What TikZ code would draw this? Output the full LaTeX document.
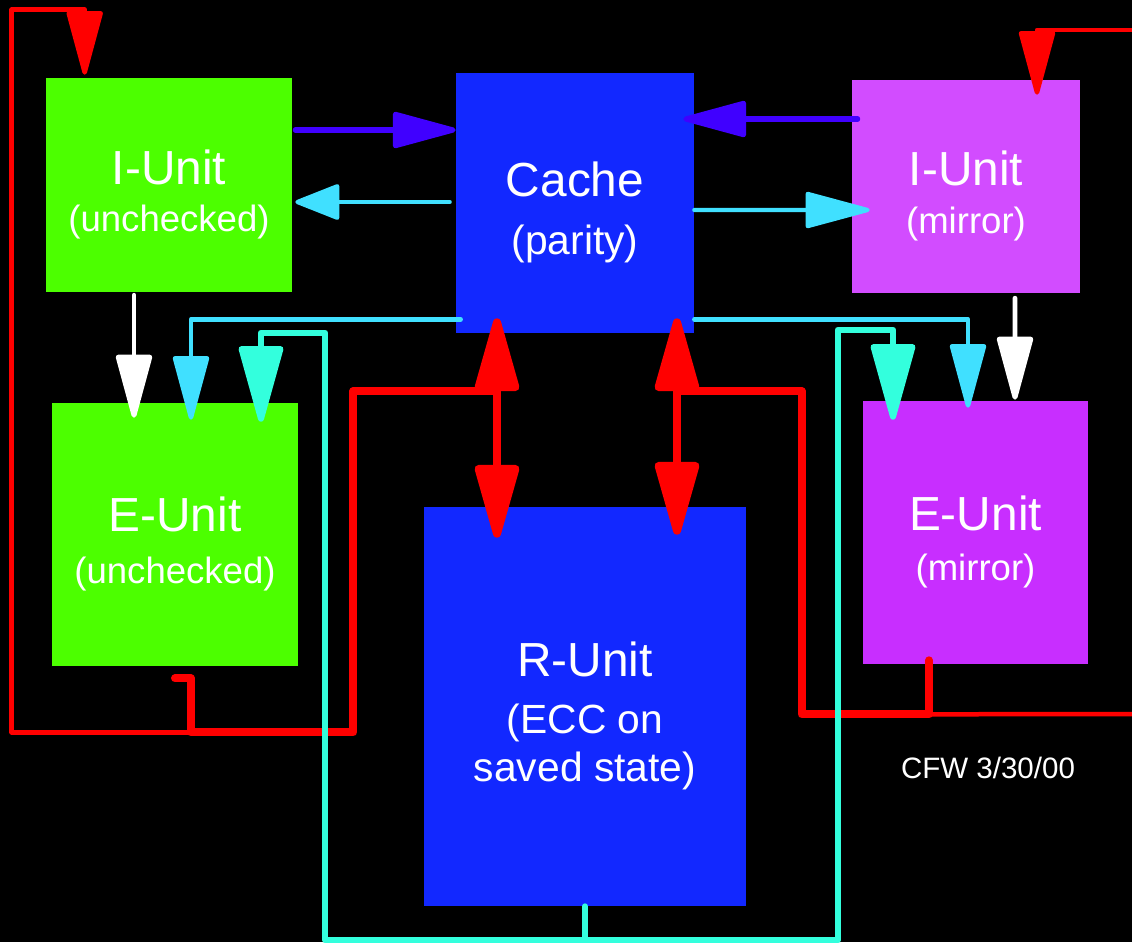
\documentclass[tikz,border=0pt]{standalone}
\usepackage{fontspec}
\setmainfont{Liberation Sans}
\usetikzlibrary{calc, positioning, arrows.meta}
\definecolor{unitGreen}{RGB}{76,255,0}
\definecolor{cacheBlue}{RGB}{18,40,255}
\definecolor{mirrorI}{RGB}{210,76,255}
\definecolor{mirrorE}{RGB}{200,46,255}
\definecolor{busBlue}{RGB}{64,0,255}
\definecolor{busCyan}{RGB}{64,224,255}
\definecolor{busTeal}{RGB}{51,255,221}
\newcommand{\subline}[1]{{\fontsize{26}{30}\selectfont #1}}
\newcommand{\bigsub}[1]{{\fontsize{29}{34}\selectfont #1}}
\newcommand{\topgap}{\rule{0pt}{38pt}}

\begin{document}
\begin{tikzpicture}[x=0.025cm, y=-0.025cm, line cap=round, line join=round,
  unit/.style={inner sep=0pt, align=center, text=white, font=\fontsize{34}{40}\selectfont},
  thinred/.style={red, line width=3.2pt},
  thickred/.style={red, line width=5.7pt},
  tipM/.style={-{Triangle[round, length=50pt, width=26pt]}},
  tipS/.style={-{Triangle[round, length=34pt, width=26pt]}},
  tipT/.style={-{Triangle[round, length=60pt, width=32pt]}},
  twoway/.style={{Triangle[round, length=60pt, width=32pt]}-{Triangle[round, length=60pt, width=32pt]}}]
  \fill[black] (0,0) rectangle (1132,942);
  \useasboundingbox (0,0) rectangle (1132,942);

  \node[unit, fill=unitGreen, minimum width=6.15cm, minimum height=5.35cm] (iul) at (169,185) {\topgap I-Unit\\[-6pt]\subline{(unchecked)}};
  \node[unit, fill=unitGreen, minimum width=6.15cm, minimum height=6.575cm] (eul) at (175,534.5) {\topgap E-Unit\\[-3pt]\subline{(unchecked)}};
  \node[unit, fill=cacheBlue, minimum width=5.95cm, minimum height=6.5cm] (cache) at (575,203) {\topgap Cache\\[1pt]\bigsub{(parity)}};
  \node[unit, fill=mirrorI, minimum width=5.7cm, minimum height=5.325cm] (iur) at (966,186.5) {\topgap I-Unit\\[-6pt]\subline{(mirror)}};
  \node[unit, fill=mirrorE, minimum width=5.625cm, minimum height=6.575cm] (eur) at (975.5,532.5) {\topgap E-Unit\\[-5pt]\subline{(mirror)}};
  \node[unit, fill=cacheBlue, minimum width=8.05cm, minimum height=9.975cm] (runit) at (585,706.5) {\topgap R-Unit\\[0pt]\bigsub{(ECC on}\\[-6pt]\bigsub{saved state)}};
  \node[text=white, font=\fontsize{21}{25}\selectfont] (date) at (988,768) {CFW 3/30/00};

  % red: cache <-> R-Unit, E-Units back
  \draw[thickred, twoway] ($(cache.south)+(-78,-15)$) -- ($(runit.north)+(-88,31)$);
  \draw[thickred, twoway] ($(cache.south)+(102,-15)$) -- ($(runit.north)+(92,28)$);
  \coordinate (joinL) at ($(cache.south)+(-78,58)$);
  \coordinate (joinR) at ($(cache.south)+(102,58)$);
  \coordinate (exitR) at (1132,714);
  \coordinate (entryR) at (1132,30);
  \draw[thickred] ($(eul.south)+(0,12)$) -- ++(16,0) |- ($(eul.south east)+(55,66)$) |- (joinL);
  \draw[thinred, tipM] ($(eul.south)+(16,66)$) -| ($(iul.north west)+(-34,-68)$) -| ($(iul.north west)+(39,-3)$);
  \draw[thickred] ($(eur.south)+(-46.5,-4)$) |- ($(eur.south west)+(-61,50)$) |- (joinR);
  \draw[thinred] ($(eur.south)+(-46.5,50)$) -- (exitR);
  \draw[thinred, tipM] (entryR) -| ($(iur.north)+(71,15)$);

  % cache <-> I-Units
  \draw[busBlue, line width=3.6pt, tipM] ($(iul.east)+(3,-55)$) -- ($(cache.west)+(0,-73)$);
  \draw[busCyan, line width=3pt, tipS] ($(cache.west)+(-6,-1)$) -- ($(iul.east)+(3,17)$);
  \draw[busBlue, line width=3.6pt, tipM] ($(iur.west)+(6,-67.5)$) -- ($(cache.east)+(-11,-84)$);
  \draw[busCyan, line width=3pt, tipM] ($(cache.east)+(0,7)$) -- ($(iur.west)+(18,23.5)$);

  % I-Unit -> E-Unit, cache -> E-Unit
  \draw[white, line width=3.5pt, tipM] ($(iul.south)+(-35,3)$) -- ($(eul.north)+(-41,15)$);
  \draw[white, line width=3.5pt, tipM] ($(iur.south)+(49,5)$) -- ($(eur.north)+(39.5,-1)$);
  \draw[busCyan, line width=3.2pt, tipM] ($(cache.south west)+(5,-14)$) -| ($(eul.north)+(16,17)$);
  \draw[busCyan, line width=3.2pt, tipM] ($(cache.south east)+(0,-14)$) -| ($(eur.north)+(-7.5,7)$);

  % teal: R-Unit -> E-Units
  \coordinate (tap) at ($(runit.south)+(0,34)$);
  \draw[busTeal, line width=4.3pt] (runit.south) -- (tap);
  \draw[busTeal, line width=4.3pt, tipT] (tap) -| ($(eul.north east)+(27,-70)$) -| ($(eul.north)+(86,19)$);
  \draw[busTeal, line width=4.3pt, tipT] (tap) -| ($(eur.north west)+(-25,-71)$) -| ($(eur.north)+(-82.5,19)$);
\end{tikzpicture}
\end{document}
